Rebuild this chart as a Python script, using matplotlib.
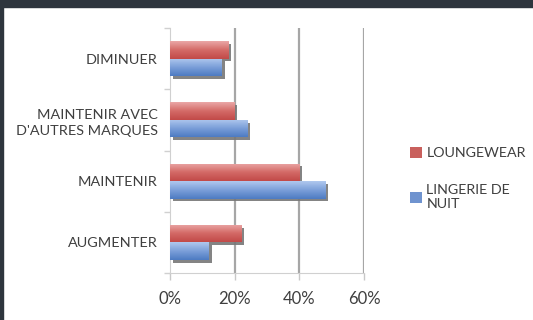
import numpy as np
import matplotlib
matplotlib.use("Agg")
import matplotlib.pyplot as plt
import matplotlib.patheffects as pe
from matplotlib.patches import Patch
from matplotlib.colors import LinearSegmentedColormap

# survey answers, top to bottom
categories = ["DIMINUER", "MAINTENIR AVEC\nD'AUTRES MARQUES", "MAINTENIR", "AUGMENTER"]
loungewear = [18, 20, 40, 22]
lingerie = [16, 24, 48, 12]
series_names = ["LOUNGEWEAR", "LINGERIE DE\nNUIT"]
xticks = [0, 20, 40, 60]

txt = "#3f3f3f"
plt.rcParams['font.family'] = ['Lato', 'DejaVu Sans']
plt.rcParams['font.size'] = 10.4

fig = plt.figure(figsize=(5.33, 3.2), dpi=100)
fig.patch.set_facecolor("white")

# dark frame along top and left edge
fig.add_artist(plt.Rectangle((0, 1 - 7 / 320), 1, 7 / 320, transform=fig.transFigure,
                             color="#2e353d", zorder=10))
fig.add_artist(plt.Rectangle((0, 0), 3 / 533, 1, transform=fig.transFigure,
                             color="#2e353d", zorder=10))

ax = fig.add_axes([170 / 533, 1 - 273 / 320, 194 / 533, 245 / 320])

y = np.arange(len(categories))
h = 0.285
shadow = [pe.SimplePatchShadow(offset=(2, -2), shadow_rgbFace="#777777", alpha=0.9), pe.Normal()]
red_bars = ax.barh(y - h / 2, loungewear, height=h, color="#c0504d", zorder=3,
                   path_effects=shadow)
blue_bars = ax.barh(y + h / 2, lingerie, height=h, color="#4f81bd", zorder=3,
                    path_effects=shadow)

red_map = LinearSegmentedColormap.from_list("r", ["#eaa7a6", "#d46a67", "#c24a48"])
blue_map = LinearSegmentedColormap.from_list("b", ["#b0c8ee", "#7b9fd9", "#4d7bc2"])
grad = np.linspace(0, 1, 64).reshape(-1, 1)
for bars, cmap in [(red_bars, red_map), (blue_bars, blue_map)]:
    for b in bars:
        x0, y0, w, hh = b.get_x(), b.get_y(), b.get_width(), b.get_height()
        im = ax.imshow(grad, cmap=cmap, aspect="auto", zorder=4,
                       extent=[x0, x0 + w, y0 + hh, y0], interpolation="bilinear")
        im.set_clip_path(b)

ax.set_xlim(0, 60)
ax.set_ylim(len(categories) - 0.5, -0.5)

ax.set_xticks(xticks)
ax.set_xticklabels([f"{v}%" for v in xticks], color=txt, fontsize=12)
ax.set_yticks(y)
ax.set_yticklabels(categories, color=txt, linespacing=1.45)
ax.set_yticks(np.arange(len(categories) + 1) - 0.5, minor=True)
ax.tick_params(axis="y", which="major", length=0, pad=9)
ax.tick_params(axis="y", which="minor", length=4, color="#d0d0d0", width=1)
ax.tick_params(axis="x", length=5, color="#c8c8c8", width=1, pad=8)

for v in xticks[1:]:
    ax.axvline(v, color="#a6a6a6", lw=1.6, zorder=1)

for s in ["top", "right"]:
    ax.spines[s].set_visible(False)
ax.spines["left"].set_color("#d0d0d0")
ax.spines["bottom"].set_color("#d0d0d0")

handles = [Patch(facecolor="#c9605d"), Patch(facecolor="#6f93cf")]
ax.legend(handles=handles, labels=series_names, loc="upper left",
          bbox_to_anchor=(397 / 533, 1 - 134 / 320), bbox_transform=fig.transFigure,
          frameon=False, handlelength=0.85, handleheight=0.8, handletextpad=0.3,
          labelspacing=1.75, labelcolor=txt, fontsize=10.3)

fig.savefig("out.png", dpi=100)
